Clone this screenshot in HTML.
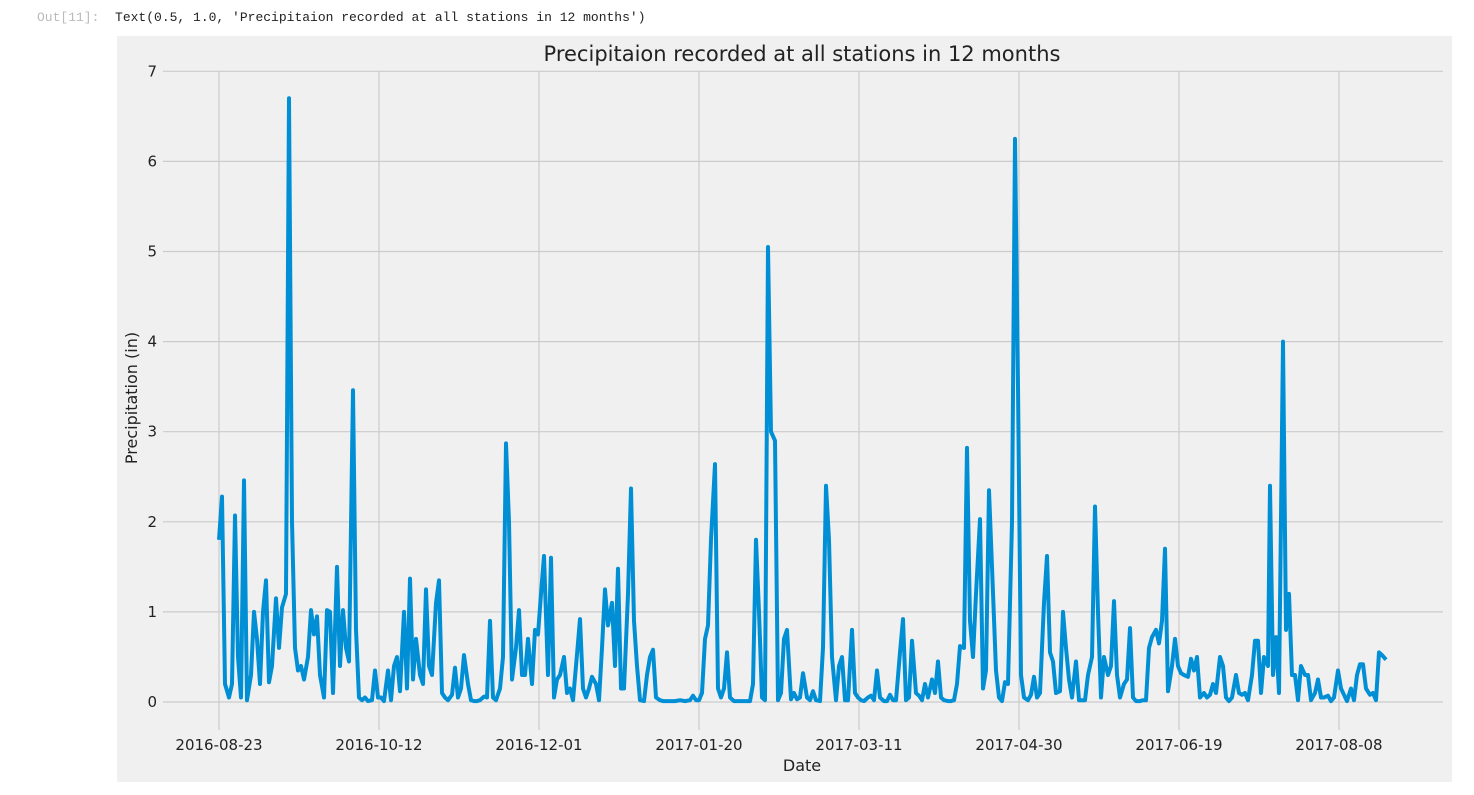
<!DOCTYPE html>
<html><head><meta charset="utf-8"><style>
body{margin:0;background:#fff;width:1474px;height:795px;overflow:hidden;font-family:"DejaVu Sans","Liberation Sans",sans-serif;}
.out{position:absolute;left:37px;top:10px;font-family:"Liberation Mono","DejaVu Sans Mono",monospace;font-size:13px;color:#bbb}
.out span{color:#222}
</style></head><body>
<div class="out">Out[11]:&nbsp; <span>Text(0.5, 1.0, 'Precipitaion recorded at all stations in 12 months')</span></div>
<svg id="s" width="1474" height="795" style="position:absolute;left:0;top:0">
<rect x="117" y="36" width="1335" height="746" fill="#f0f0f0"/>
<g id="grid" stroke="#cbcbcb" stroke-width="1.2"></g>
<g id="lab" font-size="15" fill="#222"></g>
<text x="802" y="61" font-size="21" text-anchor="middle" fill="#222">Precipitaion recorded at all stations in 12 months</text>
<text x="802" y="771" font-size="16" text-anchor="middle" fill="#222">Date</text>
<text transform="translate(137,398) rotate(-90)" font-size="16" text-anchor="middle" fill="#222">Precipitation (in)</text>
<polyline id="ln" fill="none" stroke="#008fd5" stroke-width="4" stroke-linejoin="round"/>
</svg>
<script>
var ns="http://www.w3.org/2000/svg";
function el(t,a,p,txt){var e=document.createElementNS(ns,t);for(var k in a)e.setAttribute(k,a[k]);if(txt!=null)e.textContent=txt;document.getElementById(p).appendChild(e);}
function Y(v){return 702-v*90.1;}
for(var i=0;i<=7;i++){el("line",{x1:163,x2:1443,y1:Y(i),y2:Y(i)},"grid");el("text",{x:157,y:Y(i)+5,"text-anchor":"end"},"lab",i);}
var d=["2016-08-23","2016-10-12","2016-12-01","2017-01-20","2017-03-11","2017-04-30","2017-06-19","2017-08-08"];
for(var i=0;i<8;i++){var x=219+i*160;el("line",{x1:x,x2:x,y1:71,y2:730},"grid");el("text",{x:x,y:750,"text-anchor":"middle"},"lab",d[i]);}
var p=[219,1.8,222,2.28,225,0.2,229,0.05,232,0.2,235,2.07,238,0.5,241,0.05,244,2.46,247,0.02,251,0.3,254,1.0,257,0.7,260,0.2,263,1.0,266,1.35,269,0.22,272,0.4,276,1.15,279,0.6,282,1.05,286,1.2,289,6.7,292,2.0,295,0.6,298,0.35,301,0.4,304,0.25,308,0.5,311,1.02,314,0.75,317,0.95,320,0.3,324,0.05,327,1.02,330,1.0,333,0.1,337,1.5,340,0.4,343,1.02,346,0.6,349,0.45,353,3.46,356,0.8,359,0.05,362,0.02,365,0.05,368,0.01,372,0.02,375,0.35,378,0.05,381,0.05,384,0.01,388,0.35,391,0.02,394,0.4,397,0.5,400,0.12,404,1.0,407,0.15,410,1.37,413,0.25,416,0.7,420,0.3,423,0.2,426,1.25,429,0.4,432,0.3,436,1.1,439,1.35,442,0.1,445,0.05,448,0.02,452,0.08,455,0.38,458,0.05,461,0.15,464,0.52,468,0.2,471,0.02,474,0.01,477,0.01,480,0.02,484,0.06,487,0.05,490,0.9,493,0.05,496,0.02,500,0.15,503,0.5,506,2.87,509,2.0,512,0.25,516,0.6,519,1.02,522,0.3,525,0.3,528,0.7,532,0.2,535,0.8,538,0.75,541,1.2,544,1.62,548,0.3,551,1.6,554,0.05,557,0.25,560,0.3,564,0.5,567,0.1,570,0.15,573,0.02,576,0.4,580,0.92,583,0.15,586,0.05,589,0.15,592,0.28,596,0.2,599,0.02,602,0.6,605,1.25,608,0.85,612,1.1,615,0.4,618,1.48,621,0.15,624,0.15,628,1.2,631,2.37,634,0.9,637,0.4,640,0.02,644,0.01,647,0.3,650,0.5,653,0.58,656,0.05,660,0.02,663,0.01,675,0.01,680,0.02,685,0.01,690,0.02,693,0.07,696,0.02,699,0.02,702,0.1,705,0.7,708,0.85,711,1.8,715,2.64,718,0.15,721,0.05,724,0.15,727,0.55,730,0.05,734,0.01,737,0.01,750,0.01,753,0.2,756,1.8,759,1.0,762,0.05,765,0.02,768,5.05,771,3.0,775,2.9,778,0.02,781,0.1,784,0.7,787,0.8,791,0.03,794,0.1,797,0.03,800,0.05,803,0.32,807,0.05,810,0.02,813,0.12,816,0.02,820,0.01,823,0.6,826,2.4,829,1.8,832,0.5,836,0.02,839,0.4,842,0.5,845,0.02,848,0.02,852,0.8,855,0.1,858,0.05,861,0.02,864,0.01,868,0.05,871,0.07,874,0.02,877,0.35,880,0.05,884,0.01,887,0.01,890,0.08,893,0.02,896,0.02,900,0.55,903,0.92,906,0.02,909,0.05,912,0.68,916,0.1,919,0.07,922,0.02,925,0.2,928,0.05,932,0.25,935,0.1,938,0.45,941,0.05,944,0.02,948,0.01,951,0.01,954,0.02,957,0.2,960,0.62,964,0.6,967,2.82,970,0.9,973,0.5,976,1.2,980,2.03,983,0.15,986,0.35,989,2.35,992,1.5,996,0.35,999,0.05,1002,0.01,1005,0.22,1008,0.2,1012,2.0,1015,6.25,1018,3.5,1021,0.3,1024,0.05,1028,0.02,1031,0.08,1034,0.28,1037,0.05,1040,0.1,1044,1.1,1047,1.62,1050,0.55,1053,0.45,1056,0.1,1060,0.12,1063,1.0,1066,0.6,1069,0.25,1072,0.05,1076,0.45,1079,0.02,1082,0.02,1085,0.02,1088,0.3,1092,0.5,1095,2.17,1098,1.0,1101,0.05,1104,0.5,1108,0.3,1111,0.4,1114,1.12,1117,0.3,1120,0.05,1124,0.2,1127,0.25,1130,0.82,1133,0.05,1136,0.01,1140,0.01,1143,0.02,1146,0.02,1149,0.6,1152,0.72,1156,0.8,1159,0.65,1162,0.9,1165,1.7,1168,0.12,1172,0.4,1175,0.7,1178,0.4,1181,0.32,1184,0.3,1188,0.28,1191,0.48,1194,0.35,1197,0.5,1200,0.05,1204,0.1,1207,0.05,1210,0.08,1213,0.2,1216,0.1,1220,0.5,1223,0.4,1226,0.05,1229,0.01,1232,0.05,1236,0.3,1239,0.1,1242,0.08,1245,0.1,1248,0.02,1252,0.3,1255,0.68,1258,0.68,1261,0.1,1264,0.5,1268,0.4,1270,2.4,1273,0.3,1276,0.72,1279,0.1,1283,4.0,1286,0.8,1289,1.2,1292,0.3,1295,0.3,1298,0.02,1301,0.4,1305,0.3,1308,0.3,1311,0.02,1315,0.1,1318,0.25,1321,0.05,1324,0.05,1328,0.07,1331,0.01,1334,0.05,1338,0.35,1341,0.15,1344,0.08,1347,0.01,1351,0.15,1354,0.02,1357,0.3,1360,0.42,1363,0.42,1366,0.15,1370,0.08,1373,0.1,1376,0.02,1379,0.55,1382,0.52,1386,0.47];
var s=[];for(var i=0;i<p.length;i+=2)s.push(p[i]+","+Y(p[i+1]).toFixed(1));
document.getElementById("ln").setAttribute("points",s.join(" "));
</script>
</body></html>
